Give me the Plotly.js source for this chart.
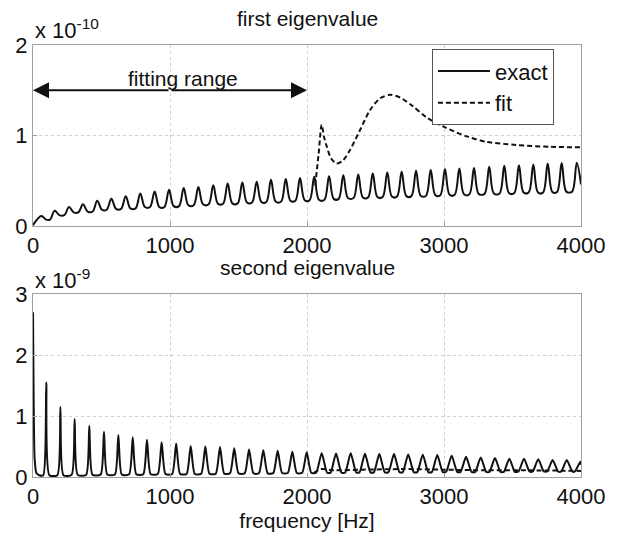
<!DOCTYPE html>
<html>
<head>
<meta charset="utf-8">
<script src="https://cdn.plot.ly/plotly-3.0.1.min.js"></script>
<style>html,body{margin:0;padding:0;background:#fff;}#chart{width:623px;height:534px;}</style>
</head>
<body>
<div id="chart"></div>
<script>
// ---- data (top values in units of 1e-10, bottom values in units of 1e-9) ----
const panelTitles = ["first eigenvalue", "second eigenvalue"];
const scaleLabels = ["x 10<sup>-10</sup>", "x 10<sup>-9</sup>"];
const xTickVals = [0, 1000, 2000, 3000, 4000];
const xLabel = "frequency [Hz]";
const fittingRange = [0, 2000];
const fittingLabel = "fitting range";

// first eigenvalue, exact: resonance peaks with a rounded trough between them
const firstExactHz = [0, 61, 95, 124, 158, 192, 229, 263, 297, 331, 365, 399, 435, 469, 503, 538, 572, 606, 643, 677, 711, 749,
  783, 817, 854, 888, 922, 959, 993, 1027, 1066, 1100, 1134, 1173, 1207, 1241, 1282, 1316, 1350, 1387, 1421, 1455, 1494,
  1528, 1562, 1599, 1633, 1667, 1703, 1737, 1771, 1811, 1845, 1879, 1915, 1949, 1983, 2019, 2053, 2087, 2127, 2161, 2195, 2231,
  2265, 2299, 2340, 2374, 2408, 2446, 2480, 2514, 2552, 2586, 2620, 2657, 2691, 2725, 2762, 2796, 2830, 2869, 2903, 2937, 2973,
  3007, 3041, 3078, 3112, 3146, 3185, 3219, 3253, 3296, 3330, 3364, 3406, 3440, 3474, 3513, 3547, 3581, 3618, 3652, 3686, 3723,
  3757, 3791, 3825, 3859, 3893, 3935, 3969, 4000];
const firstExactVal = [0.01, 0.11, 0.07, 0.07, 0.17, 0.12, 0.12, 0.21, 0.15, 0.15, 0.24, 0.16, 0.16, 0.28, 0.18, 0.18, 0.30, 0.19, 0.19, 0.33, 0.195, 0.195,
  0.36, 0.21, 0.21, 0.38, 0.21, 0.21, 0.40, 0.22, 0.22, 0.42, 0.23, 0.23, 0.43, 0.24, 0.24, 0.45, 0.245, 0.245, 0.47, 0.25, 0.25,
  0.48, 0.26, 0.26, 0.49, 0.265, 0.265, 0.51, 0.27, 0.27, 0.52, 0.28, 0.28, 0.53, 0.285, 0.285, 0.545, 0.29, 0.29, 0.55, 0.30, 0.30,
  0.56, 0.31, 0.31, 0.57, 0.315, 0.315, 0.58, 0.32, 0.32, 0.59, 0.325, 0.325, 0.60, 0.33, 0.33, 0.61, 0.335, 0.335, 0.62, 0.34, 0.34,
  0.63, 0.345, 0.345, 0.635, 0.35, 0.35, 0.64, 0.355, 0.355, 0.655, 0.36, 0.36, 0.665, 0.365, 0.365, 0.67, 0.37, 0.37, 0.68, 0.37, 0.37,
  0.69, 0.375, 0.375, 0.695, 0.38, 0.38, 0.70, 0.46];

// first eigenvalue, fit (outside the fitting range; inside it coincides with exact)
const firstFitHz = [2060, 2085, 2107, 2125, 2144, 2175, 2216, 2260, 2314, 2387, 2460, 2533, 2606, 2679, 2776, 2873, 2993, 3166, 3311, 3530, 3774, 4000];
const firstFitVal = [0.45, 0.80, 1.12, 0.98, 0.88, 0.75, 0.69, 0.72, 0.84, 1.06, 1.28, 1.41, 1.45, 1.42, 1.32, 1.20, 1.10, 0.99, 0.93, 0.895, 0.875, 0.87];

// second eigenvalue, exact: narrow resonance spikes over a low floor
const secondExactHz = [0, 5, 12, 25, 45, 75, 97, 119, 178, 200, 222, 282, 304, 326, 388, 411, 434, 494, 518, 542, 598, 623, 648,
  702, 728, 754, 805, 832, 859, 911, 939, 967, 1016, 1045, 1074, 1121, 1151, 1181, 1228, 1258, 1288, 1334, 1365, 1396,
  1438, 1469, 1500, 1545, 1577, 1609, 1649, 1681, 1713, 1754, 1786, 1818, 1860, 1893, 1926, 1965, 1998, 2031,
  2067, 2107, 2147, 2172, 2212, 2252, 2279, 2319, 2359, 2383, 2423, 2463, 2488, 2528, 2568, 2595, 2635, 2675,
  2699, 2739, 2779, 2805, 2845, 2885, 2911, 2951, 2991, 3016, 3056, 3096, 3121, 3161, 3201, 3228, 3268, 3308,
  3332, 3372, 3412, 3437, 3477, 3517, 3544, 3584, 3624, 3648, 3688, 3728, 3753, 3793, 3833, 3856, 3896, 3936, 3955, 3995, 4000];
const secondExactVal = [2.7, 1.2, 0.3, 0.06, 0.03, 0.03, 1.55, 0.03, 0.03, 1.15, 0.03, 0.035, 0.95, 0.035, 0.035, 0.84, 0.035, 0.04, 0.74, 0.04, 0.04, 0.69, 0.04,
  0.045, 0.65, 0.045, 0.045, 0.61, 0.045, 0.05, 0.57, 0.05, 0.05, 0.55, 0.05, 0.05, 0.51, 0.05, 0.055, 0.50, 0.055, 0.055, 0.49, 0.055,
  0.06, 0.47, 0.06, 0.06, 0.45, 0.06, 0.06, 0.44, 0.06, 0.065, 0.43, 0.065, 0.065, 0.415, 0.065, 0.07, 0.405, 0.07,
  0.07, 0.39, 0.07, 0.07, 0.385, 0.07, 0.075, 0.39, 0.075, 0.075, 0.38, 0.075, 0.075, 0.375, 0.075, 0.08, 0.375, 0.08,
  0.08, 0.37, 0.08, 0.08, 0.365, 0.08, 0.08, 0.36, 0.08, 0.085, 0.35, 0.085, 0.085, 0.33, 0.085, 0.085, 0.32, 0.085,
  0.085, 0.31, 0.085, 0.085, 0.30, 0.085, 0.09, 0.30, 0.09, 0.09, 0.29, 0.09, 0.09, 0.28, 0.09, 0.09, 0.28, 0.09, 0.09, 0.25, 0.20];

// second eigenvalue, fit
const secondFitHz = [2050, 2100, 2200, 2400, 2700, 3000, 3300, 3600, 4000];
const secondFitVal = [0.07, 0.13, 0.11, 0.12, 0.13, 0.12, 0.11, 0.11, 0.10];

// ---- styling ----
const FONT = "Liberation Sans, Arial, Helvetica, sans-serif";
const solid = {color: "#111", width: 2};
const dashed = {color: "#111", width: 2, dash: "5px,3px"};

const traces = [
  {x: firstExactHz, y: firstExactVal, xaxis: "x", yaxis: "y", mode: "lines", name: "exact",
   line: Object.assign({shape: "spline", smoothing: 1}, solid)},
  {x: firstFitHz, y: firstFitVal, xaxis: "x", yaxis: "y", mode: "lines", name: "fit",
   line: Object.assign({shape: "spline", smoothing: 0.8}, dashed)},
  {x: secondFitHz, y: secondFitVal, xaxis: "x2", yaxis: "y2", mode: "lines", name: "fit", showlegend: false,
   line: Object.assign({shape: "spline", smoothing: 0.8}, dashed)},
  {x: secondExactHz, y: secondExactVal, xaxis: "x2", yaxis: "y2", mode: "lines", name: "exact", showlegend: false,
   line: Object.assign({shape: "spline", smoothing: 0.6}, solid)}
];

function xAxis(anchor) {
  return {anchor: anchor, domain: [0, 1], range: [0, 4000], tickvals: xTickVals,
    showgrid: true, gridcolor: "#cfcfcf", griddash: "dot", gridwidth: 1,
    showline: true, mirror: true, linecolor: "#a0a0a0", linewidth: 1,
    ticks: "inside", ticklen: 4, tickcolor: "#a0a0a0",
    tickfont: {family: FONT, size: 22, color: "#111"}, zeroline: false, fixedrange: true};
}
function yAxis(anchor, domain, max) {
  const vals = [];
  for (let v = 0; v <= max; v++) vals.push(v);
  return {anchor: anchor, domain: domain, range: [0, max], tickvals: vals,
    showgrid: true, gridcolor: "#cfcfcf", griddash: "dot", gridwidth: 1,
    showline: true, mirror: true, linecolor: "#a0a0a0", linewidth: 1,
    ticks: "inside", ticklen: 4, tickcolor: "#a0a0a0",
    tickfont: {family: FONT, size: 22, color: "#111"}, zeroline: false, fixedrange: true};
}

const x2 = xAxis("y2");
x2.title = {text: xLabel, font: {family: FONT, size: 21, color: "#111"}, standoff: 0};

const arrowCommon = {xref: "x", yref: "y", axref: "x", ayref: "y", text: "", showarrow: true,
  arrowhead: 2, arrowsize: 1.6, arrowwidth: 2, arrowcolor: "#111", ay: 1.5, ax: (fittingRange[0] + fittingRange[1]) / 2};

const layout = {
  width: 623, height: 534,
  margin: {l: 33, r: 42, t: 45, b: 57},
  paper_bgcolor: "#fff", plot_bgcolor: "#fff",
  font: {family: FONT, size: 21, color: "#111"},
  xaxis: xAxis("y"),
  yaxis: yAxis("x", [0.581, 1], 2),
  xaxis2: x2,
  yaxis2: yAxis("x2", [0, 0.4236], 3),
  showlegend: true,
  legend: {x: 0.728, y: 0.99, xanchor: "left", yanchor: "top", bgcolor: "#fff",
    bordercolor: "#555", borderwidth: 1, font: {family: FONT, size: 22, color: "#111"},
    itemwidth: 52, entrywidth: 132, tracegroupgap: 0},
  annotations: [
    {xref: "paper", yref: "paper", x: 0.5, y: 1.0625, xanchor: "center", yanchor: "middle", showarrow: false,
     text: panelTitles[0], font: {family: FONT, size: 21, color: "#111"}},
    {xref: "paper", yref: "paper", x: 0.5, y: 0.4838, xanchor: "center", yanchor: "middle", showarrow: false,
     text: panelTitles[1], font: {family: FONT, size: 21, color: "#111"}},
    {xref: "paper", yref: "paper", x: 0, y: 1.0, xanchor: "left", yanchor: "bottom", showarrow: false,
     text: scaleLabels[0], font: {family: FONT, size: 22, color: "#111"}},
    {xref: "paper", yref: "paper", x: 0, y: 0.421, xanchor: "left", yanchor: "bottom", showarrow: false,
     text: scaleLabels[1], font: {family: FONT, size: 22, color: "#111"}},
    {xref: "x", yref: "y", x: 1095, y: 1.63, xanchor: "center", yanchor: "middle", showarrow: false,
     text: fittingLabel, font: {family: FONT, size: 21, color: "#111"}},
    Object.assign({x: fittingRange[0], y: 1.5}, arrowCommon),
    Object.assign({x: fittingRange[1], y: 1.5}, arrowCommon)
  ]
};

Plotly.newPlot("chart", traces, layout, {staticPlot: true, displayModeBar: false});
</script>
</body>
</html>
